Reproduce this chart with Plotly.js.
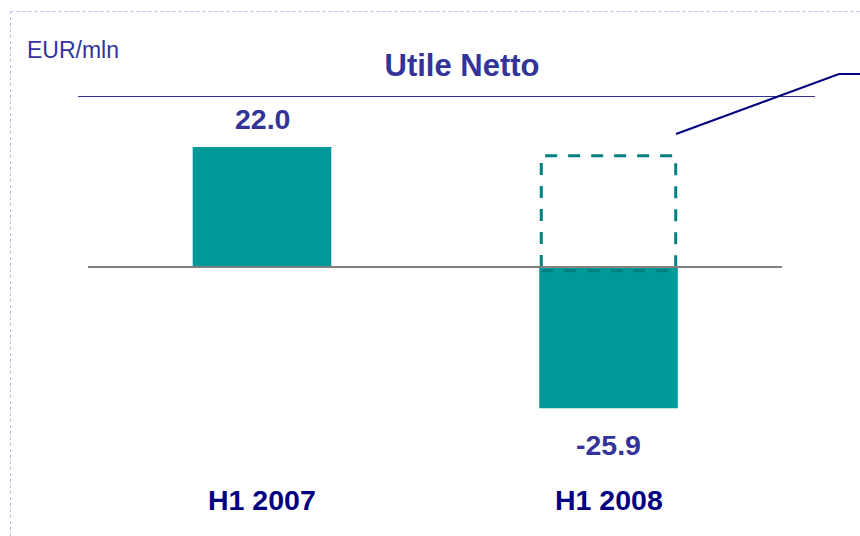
<!DOCTYPE html>
<html>
<head>
<meta charset="utf-8">
<script src="https://cdn.plot.ly/plotly-3.0.1.min.js"></script>
<style>html,body{margin:0;padding:0;background:#fff;}#chart{width:860px;height:536px;}</style>
</head>
<body>
<div id="chart"></div>
<script>
// Data
var categories = ["H1 2007", "H1 2008"];
var values = [22.0, -25.9];
var valueLabels = ["22.0", "-25.9"];
var dashedCategoryIndex = 1;
var dashedValue = 20.4; // outlined (hypothetical) value for H1 2008
var unitLabel = "EUR/mln";
var chartTitle = "Utile Netto";

var W = 860, H = 536;
var FONT = "Liberation Sans, Arial, Helvetica, sans-serif";
var teal = "#009999";
var barWidth = 0.4;
var xs = categories.map(function (c, i) { return i; });

var trace = {
  type: "bar",
  x: xs,
  y: values,
  width: barWidth,
  marker: { color: teal, line: { width: 0 } },
  hoverinfo: "skip",
  showlegend: false
};

var annotations = [];
annotations.push({
  text: unitLabel, xref: "paper", yref: "paper",
  x: 25 / W, y: 1 - 50 / H, xanchor: "left", yanchor: "middle",
  showarrow: false, font: { family: FONT, size: 23, color: "#333399" }
});
values.forEach(function (v, i) {
  annotations.push({
    text: "<b>" + valueLabels[i] + "</b>", xref: "x", yref: "y",
    x: xs[i], y: v, xanchor: "center", yanchor: "middle",
    yshift: v >= 0 ? 28 : -37,
    showarrow: false, font: { family: FONT, size: 28.5, color: "#333399" }
  });
  annotations.push({
    text: "<b>" + categories[i] + "</b>", xref: "x", yref: "paper",
    x: xs[i], y: 1 - 500 / H, xanchor: "center", yanchor: "middle",
    showarrow: false, font: { family: FONT, size: 28.5, color: "#000080" }
  });
});

function px(x) { return x / W; }
function py(y) { return 1 - y / H; }

var shapes = [
  // outer dotted frame
  { type: "line", xref: "paper", yref: "paper", x0: px(10.5), x1: px(10.5), y0: py(11), y1: 0,
    line: { color: "#b8b8ec", width: 1, dash: "dot" } },
  { type: "line", xref: "paper", yref: "paper", x0: px(10.5), x1: 1, y0: py(11.5), y1: py(11.5),
    line: { color: "#b8b8ec", width: 1, dash: "dot" } },
  // title underline
  { type: "line", xref: "paper", yref: "paper", x0: px(78), x1: px(815), y0: py(96.5), y1: py(96.5),
    line: { color: "#333399", width: 1 } },
  // dashed outline bar
  { type: "rect", xref: "x", yref: "y",
    x0: xs[dashedCategoryIndex] - barWidth / 2 + 0.006, x1: xs[dashedCategoryIndex] + barWidth / 2 - 0.006,
    y0: -0.7, y1: dashedValue,
    line: { color: "#008080", width: 3, dash: "12px,11px" }, fillcolor: "rgba(0,0,0,0)", layer: "above" },
  // zero line
  { type: "line", xref: "paper", yref: "y", x0: px(88), x1: px(782), y0: 0, y1: 0,
    line: { color: "#808080", width: 2 }, layer: "above" },
  // callout pointer
  { type: "path", xref: "paper", yref: "paper",
    path: "M " + px(676) + " " + py(134) + " L " + px(839) + " " + py(74) + " L " + px(862) + " " + py(74),
    line: { color: "#000080", width: 2 } }
];

var yScale = 5.45; // px per unit
var zeroY = 267;
var center0 = 262, spacing = 346.5;

var layout = {
  width: W, height: H,
  margin: { l: 0, r: 0, t: 0, b: 0, pad: 0 },
  paper_bgcolor: "#ffffff", plot_bgcolor: "rgba(0,0,0,0)",
  title: {
    text: "<b>" + chartTitle + "</b>",
    xref: "paper", yref: "paper", x: px(462), y: py(65.5), xanchor: "center", yanchor: "middle",
    font: { family: FONT, size: 31, color: "#333399" }
  },
  xaxis: { range: [-center0 / spacing, (W - center0) / spacing], visible: false, fixedrange: true },
  yaxis: { range: [-(H - zeroY) / yScale, zeroY / yScale], visible: false, zeroline: false, fixedrange: true },
  showlegend: false,
  annotations: annotations,
  shapes: shapes
};

Plotly.newPlot("chart", [trace], layout, { staticPlot: true, displayModeBar: false });
</script>
</body>
</html>
